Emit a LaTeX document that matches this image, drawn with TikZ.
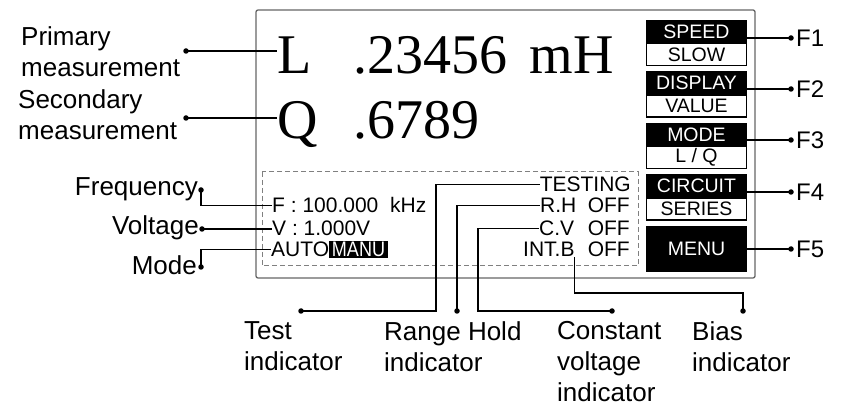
\documentclass[tikz,border=0pt]{standalone}
\usepackage{fontspec}
\setmainfont{Liberation Sans}
\newfontfamily\bigserif{Liberation Serif}
\begin{document}
\begin{tikzpicture}[x=1pt,y=-1pt,
  lbl/.style={font=\fontsize{26}{31}\selectfont, inner sep=0, align=left},
  flbl/.style={font=\fontsize{24}{28}\selectfont, inner sep=0, anchor=west},
  scr/.style={font=\fontsize{21}{25}\selectfont, inner sep=0},
  big/.style={font=\bigserif\fontsize{56}{60}\selectfont, inner sep=0},
  conn/.style={line width=1.4pt},
  dot/.style={circle, fill=black, inner sep=0, minimum size=5.5pt},
  blk/.style={fill=black, text=white, minimum width=101pt, minimum height=23pt, inner sep=0, font=\fontsize{19.5}{20}\selectfont},
  wht/.style={draw=black, line width=1.1pt, fill=white, minimum width=100pt, minimum height=22pt, inner sep=0, font=\fontsize{19.5}{20}\selectfont}
]
\useasboundingbox (0,0) rectangle (847,406);
% screen frame
\draw[black!60, line width=1.3pt, rounded corners=2pt] (256,10) rectangle (755,278);
\draw[black!50, line width=1pt, dash pattern=on 5pt off 3pt] (262,172) rectangle (638,266);

% big readings
\node[big, anchor=base west] (L) at (277,74) {L};
\node[big, anchor=base west] (lval) at (353,74) {.23456};
\node[big, anchor=base east] (lunit) at (614,74) {mH};
\node[big, anchor=base west] (Q) at (277,139) {Q};
\node[big, anchor=base west] (qval) at (353,139) {.6789};

% left labels
\node[lbl, anchor=north west] (prim) at (21,26.4) {Primary\\measurement};
\node[lbl, anchor=north west] (sec) at (18,89) {Secondary\\measurement};
\node[dot] (pdot) at (186,51) {};
\node[dot] (sdot) at (186,118) {};
\draw[conn] (pdot.center) -- (pdot.center -| L.west);
\draw[conn] (sdot.center) -- (sdot.center -| Q.west);

% screen lower rows
\node[scr, anchor=base west] (frow) at (272,213) {F : 100.000\ \ kHz};
\node[scr, anchor=base west] (vrow) at (272,236) {V : 1.000V};
\node[scr, anchor=base west] (auto) at (271,257) {AUTO};
\node[fill=black, text=white, inner sep=0, minimum width=59pt, minimum height=17pt, font=\fontsize{21}{25}\selectfont] (manu) at (358.5,249.5) {\scalebox{0.86}[1]{MANU}};

\node[scr, anchor=base east] (testing) at (631,192) {TESTING};
\node[scr, anchor=base west] (rh) at (540,213) {R.H};
\node[scr, anchor=base east] (rhoff) at (630,213) {OFF};
\node[scr, anchor=base west] (cv) at (539,236) {C.V};
\node[scr, anchor=base east] (cvoff) at (630,236) {OFF};
\node[scr, anchor=base west] (intb) at (523,257) {INT.B};
\node[scr, anchor=base east] (intboff) at (630,257) {OFF};

% left lower labels
\node[lbl, anchor=base east] (freq) at (198,196) {Frequency};
\node[lbl, anchor=base east] (volt) at (199,235) {Voltage};
\node[lbl, anchor=base east] (mode) at (197,275) {Mode};
\node[dot] (fdot) at (201,190) {};
\node[dot] (vdot) at (202,229) {};
\node[dot] (mdot) at (201,267) {};
\draw[conn] (fdot.center) |- (frow.west);
\draw[conn] (vdot.center) -- (vdot.center -| vrow.west);
\draw[conn] (mdot.center) |- (auto.west);

% bottom labels
\node[lbl, anchor=north west] (test) at (244,321.4) {Test\\indicator};
\node[lbl, anchor=north west] (range) at (384,321.4) {Range Hold\\indicator};
\node[lbl, anchor=north west] (const) at (557,321.4) {Constant\\voltage\\indicator};
\node[lbl, anchor=north west] (bias) at (692,321.4) {Bias\\indicator};
\node[dot] (tdot) at (301,311) {};
\node[dot] (rhdot) at (457,311) {};
\node[dot] (cvdot) at (612,311) {};
\node[dot] (bdot) at (743,311) {};
\coordinate (tbend) at (436,311);
\coordinate (cvbend) at (478,311);
\draw[conn] (testing.west) -| (tbend) -- (tdot.center);
\draw[conn] (rh.west) -| (rhdot.center);
\draw[conn] (cv.west) -| (cvbend) -- (cvdot.center);
\draw[conn] (intb.south east) -- ++(0,36) -| (bdot.center);

% soft keys
\node[blk] (speed) at (696.5,31.5) {SPEED};
\node[wht] (slow) at (696.5,54.5) {SLOW};
\node[blk] (display) at (696.5,83) {DISPLAY};
\node[wht] (value) at (696.5,106) {VALUE};
\node[blk] (modek) at (696.5,134.5) {MODE};
\node[wht] (lq) at (696.5,157.5) {L / Q};
\node[blk] (circuit) at (696.5,186) {CIRCUIT};
\node[wht] (series) at (696.5,209) {SERIES};
\node[blk, minimum height=46pt] (menu) at (696.5,249) {MENU};

\node[dot] (f1dot) at (791,38) {};
\node[dot] (f2dot) at (791,89) {};
\node[dot] (f3dot) at (791,140) {};
\node[dot] (f4dot) at (791,192) {};
\node[dot] (f5dot) at (791,249) {};
\node[flbl] (f1) at (796,38) {F1};
\node[flbl] (f2) at (796,89) {F2};
\node[flbl] (f3) at (796,140) {F3};
\node[flbl] (f4) at (796,192) {F4};
\node[flbl] (f5) at (796,249) {F5};
\draw[conn] (f1dot.center) -- (f1dot.center -| speed.east);
\draw[conn] (f2dot.center) -- (f2dot.center -| display.east);
\draw[conn] (f3dot.center) -- (f3dot.center -| modek.east);
\draw[conn] (f4dot.center) -- (f4dot.center -| circuit.east);
\draw[conn] (f5dot.center) -- (menu.east);
\end{tikzpicture}
\end{document}
